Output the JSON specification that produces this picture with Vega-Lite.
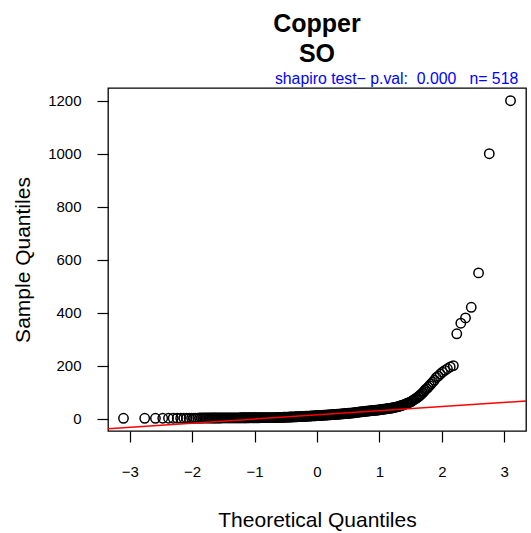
{
  "$schema": "https://vega.github.io/schema/vega-lite/v6.json",
  "width": 418,
  "height": 343,
  "autosize": {"type": "none"},
  "padding": {"left": 108, "top": 88, "right": 5, "bottom": 102},
  "background": "white",
  "title": {
    "text": ["Copper", "SO"],
    "font": "Liberation Sans",
    "fontSize": 25,
    "fontWeight": "bold",
    "color": "black",
    "lineHeight": 30,
    "anchor": "middle",
    "frame": "group",
    "offset": 4
  },
  "config": {
    "font": "Liberation Sans",
    "view": {"stroke": "black", "strokeWidth": 1.3},
    "axis": {
      "grid": false,
      "domain": false,
      "ticks": true,
      "tickColor": "black",
      "tickWidth": 1.2,
      "tickSize": 11,
      "labelColor": "black",
      "labelFontSize": 15,
      "labelFont": "Liberation Sans",
      "labelFlush": false,
      "labelOverlap": false,
      "titleFont": "Liberation Sans",
      "titleFontWeight": "normal",
      "titleColor": "black",
      "titleFontSize": 21
    },
    "axisBottom": {"labelPadding": 34, "labelBaseline": "alphabetic", "titleY": 95.7, "titleBaseline": "alphabetic"},
    "axisLeft": {"labelPadding": 16, "labelAngle": 0, "titleX": -79, "titleBaseline": "alphabetic", "titleAngle": 270},
    "axisTop": {"ticks": false, "labels": false, "domain": false, "titleColor": "#0000FF", "titleFontSize": 15.8, "titleX": 409.7, "titleY": -4.3, "titleAlign": "right", "titleAnchor": "end", "titleBaseline": "alphabetic", "titleAngle": 0}
  },
  "datasets": {
    "qq": [
      {"theoretical": -3.100, "sample": 1.0},
      {"theoretical": -2.760, "sample": 1.0},
      {"theoretical": -2.588, "sample": 1.0},
      {"theoretical": -2.471, "sample": 1.1},
      {"theoretical": -2.379, "sample": 1.2},
      {"theoretical": -2.304, "sample": 1.3},
      {"theoretical": -2.239, "sample": 1.4},
      {"theoretical": -2.184, "sample": 1.5},
      {"theoretical": -2.134, "sample": 1.5},
      {"theoretical": -2.089, "sample": 1.6},
      {"theoretical": -2.048, "sample": 1.6},
      {"theoretical": -2.010, "sample": 1.7},
      {"theoretical": -1.975, "sample": 1.7},
      {"theoretical": -1.942, "sample": 1.8},
      {"theoretical": -1.911, "sample": 1.8},
      {"theoretical": -1.882, "sample": 1.9},
      {"theoretical": -1.855, "sample": 1.9},
      {"theoretical": -1.828, "sample": 2.0},
      {"theoretical": -1.803, "sample": 2.0},
      {"theoretical": -1.779, "sample": 2.0},
      {"theoretical": -1.756, "sample": 2.1},
      {"theoretical": -1.733, "sample": 2.1},
      {"theoretical": -1.712, "sample": 2.1},
      {"theoretical": -1.691, "sample": 2.2},
      {"theoretical": -1.672, "sample": 2.2},
      {"theoretical": -1.653, "sample": 2.2},
      {"theoretical": -1.635, "sample": 2.2},
      {"theoretical": -1.62, "sample": 2.2},
      {"theoretical": -1.60, "sample": 2.2},
      {"theoretical": -1.58, "sample": 2.3},
      {"theoretical": -1.56, "sample": 2.3},
      {"theoretical": -1.54, "sample": 2.3},
      {"theoretical": -1.52, "sample": 2.4},
      {"theoretical": -1.50, "sample": 2.4},
      {"theoretical": -1.48, "sample": 2.4},
      {"theoretical": -1.46, "sample": 2.4},
      {"theoretical": -1.44, "sample": 2.5},
      {"theoretical": -1.42, "sample": 2.5},
      {"theoretical": -1.40, "sample": 2.5},
      {"theoretical": -1.38, "sample": 2.5},
      {"theoretical": -1.36, "sample": 2.6},
      {"theoretical": -1.34, "sample": 2.6},
      {"theoretical": -1.32, "sample": 2.6},
      {"theoretical": -1.30, "sample": 2.6},
      {"theoretical": -1.28, "sample": 2.7},
      {"theoretical": -1.26, "sample": 2.7},
      {"theoretical": -1.24, "sample": 2.7},
      {"theoretical": -1.22, "sample": 2.8},
      {"theoretical": -1.20, "sample": 2.8},
      {"theoretical": -1.18, "sample": 2.8},
      {"theoretical": -1.16, "sample": 2.9},
      {"theoretical": -1.14, "sample": 2.9},
      {"theoretical": -1.12, "sample": 2.9},
      {"theoretical": -1.10, "sample": 3.0},
      {"theoretical": -1.08, "sample": 3.0},
      {"theoretical": -1.06, "sample": 3.0},
      {"theoretical": -1.04, "sample": 3.0},
      {"theoretical": -1.02, "sample": 3.1},
      {"theoretical": -1.00, "sample": 3.1},
      {"theoretical": -0.98, "sample": 3.1},
      {"theoretical": -0.96, "sample": 3.2},
      {"theoretical": -0.94, "sample": 3.2},
      {"theoretical": -0.92, "sample": 3.2},
      {"theoretical": -0.90, "sample": 3.3},
      {"theoretical": -0.88, "sample": 3.3},
      {"theoretical": -0.86, "sample": 3.3},
      {"theoretical": -0.84, "sample": 3.4},
      {"theoretical": -0.82, "sample": 3.4},
      {"theoretical": -0.80, "sample": 3.4},
      {"theoretical": -0.78, "sample": 3.5},
      {"theoretical": -0.76, "sample": 3.5},
      {"theoretical": -0.74, "sample": 3.5},
      {"theoretical": -0.72, "sample": 3.6},
      {"theoretical": -0.70, "sample": 3.6},
      {"theoretical": -0.68, "sample": 3.6},
      {"theoretical": -0.66, "sample": 3.7},
      {"theoretical": -0.64, "sample": 3.9},
      {"theoretical": -0.62, "sample": 4.0},
      {"theoretical": -0.60, "sample": 4.2},
      {"theoretical": -0.58, "sample": 4.4},
      {"theoretical": -0.56, "sample": 4.6},
      {"theoretical": -0.54, "sample": 4.8},
      {"theoretical": -0.52, "sample": 4.9},
      {"theoretical": -0.50, "sample": 5.1},
      {"theoretical": -0.48, "sample": 5.3},
      {"theoretical": -0.46, "sample": 5.5},
      {"theoretical": -0.44, "sample": 5.7},
      {"theoretical": -0.42, "sample": 5.8},
      {"theoretical": -0.40, "sample": 6.0},
      {"theoretical": -0.38, "sample": 6.2},
      {"theoretical": -0.36, "sample": 6.4},
      {"theoretical": -0.34, "sample": 6.6},
      {"theoretical": -0.32, "sample": 6.9},
      {"theoretical": -0.30, "sample": 7.1},
      {"theoretical": -0.28, "sample": 7.3},
      {"theoretical": -0.26, "sample": 7.5},
      {"theoretical": -0.24, "sample": 7.8},
      {"theoretical": -0.22, "sample": 8.0},
      {"theoretical": -0.20, "sample": 8.2},
      {"theoretical": -0.18, "sample": 8.5},
      {"theoretical": -0.16, "sample": 8.8},
      {"theoretical": -0.14, "sample": 9.1},
      {"theoretical": -0.12, "sample": 9.3},
      {"theoretical": -0.10, "sample": 9.6},
      {"theoretical": -0.08, "sample": 9.9},
      {"theoretical": -0.06, "sample": 10.2},
      {"theoretical": -0.04, "sample": 10.4},
      {"theoretical": -0.02, "sample": 10.7},
      {"theoretical": 0.00, "sample": 11.0},
      {"theoretical": 0.02, "sample": 11.3},
      {"theoretical": 0.04, "sample": 11.6},
      {"theoretical": 0.06, "sample": 11.9},
      {"theoretical": 0.08, "sample": 12.2},
      {"theoretical": 0.10, "sample": 12.5},
      {"theoretical": 0.12, "sample": 12.8},
      {"theoretical": 0.14, "sample": 13.1},
      {"theoretical": 0.16, "sample": 13.4},
      {"theoretical": 0.18, "sample": 13.7},
      {"theoretical": 0.20, "sample": 14.0},
      {"theoretical": 0.22, "sample": 14.4},
      {"theoretical": 0.24, "sample": 14.7},
      {"theoretical": 0.26, "sample": 15.1},
      {"theoretical": 0.28, "sample": 15.4},
      {"theoretical": 0.30, "sample": 15.8},
      {"theoretical": 0.32, "sample": 16.1},
      {"theoretical": 0.34, "sample": 16.5},
      {"theoretical": 0.36, "sample": 16.8},
      {"theoretical": 0.38, "sample": 17.2},
      {"theoretical": 0.40, "sample": 17.5},
      {"theoretical": 0.42, "sample": 18.0},
      {"theoretical": 0.44, "sample": 18.4},
      {"theoretical": 0.46, "sample": 18.9},
      {"theoretical": 0.48, "sample": 19.3},
      {"theoretical": 0.50, "sample": 19.8},
      {"theoretical": 0.52, "sample": 20.2},
      {"theoretical": 0.54, "sample": 20.7},
      {"theoretical": 0.56, "sample": 21.1},
      {"theoretical": 0.58, "sample": 21.6},
      {"theoretical": 0.60, "sample": 22.0},
      {"theoretical": 0.62, "sample": 22.7},
      {"theoretical": 0.64, "sample": 23.4},
      {"theoretical": 0.66, "sample": 24.1},
      {"theoretical": 0.68, "sample": 24.7},
      {"theoretical": 0.70, "sample": 25.2},
      {"theoretical": 0.72, "sample": 25.8},
      {"theoretical": 0.74, "sample": 26.3},
      {"theoretical": 0.76, "sample": 26.9},
      {"theoretical": 0.78, "sample": 27.4},
      {"theoretical": 0.80, "sample": 28.0},
      {"theoretical": 0.82, "sample": 28.5},
      {"theoretical": 0.84, "sample": 29.0},
      {"theoretical": 0.86, "sample": 29.5},
      {"theoretical": 0.88, "sample": 30.0},
      {"theoretical": 0.90, "sample": 30.5},
      {"theoretical": 0.92, "sample": 31.0},
      {"theoretical": 0.94, "sample": 31.5},
      {"theoretical": 0.96, "sample": 32.0},
      {"theoretical": 0.98, "sample": 32.5},
      {"theoretical": 1.00, "sample": 33.0},
      {"theoretical": 1.02, "sample": 33.7},
      {"theoretical": 1.04, "sample": 34.4},
      {"theoretical": 1.06, "sample": 35.1},
      {"theoretical": 1.08, "sample": 35.8},
      {"theoretical": 1.10, "sample": 36.5},
      {"theoretical": 1.12, "sample": 37.2},
      {"theoretical": 1.14, "sample": 37.9},
      {"theoretical": 1.16, "sample": 38.6},
      {"theoretical": 1.18, "sample": 39.3},
      {"theoretical": 1.20, "sample": 40.0},
      {"theoretical": 1.22, "sample": 41.0},
      {"theoretical": 1.24, "sample": 42.0},
      {"theoretical": 1.26, "sample": 43.0},
      {"theoretical": 1.28, "sample": 44.0},
      {"theoretical": 1.30, "sample": 45.0},
      {"theoretical": 1.32, "sample": 46.6},
      {"theoretical": 1.34, "sample": 48.2},
      {"theoretical": 1.36, "sample": 49.8},
      {"theoretical": 1.38, "sample": 51.4},
      {"theoretical": 1.40, "sample": 53.0},
      {"theoretical": 1.42, "sample": 55.0},
      {"theoretical": 1.44, "sample": 57.0},
      {"theoretical": 1.46, "sample": 59.0},
      {"theoretical": 1.48, "sample": 61.0},
      {"theoretical": 1.50, "sample": 63.0},
      {"theoretical": 1.52, "sample": 66.0},
      {"theoretical": 1.54, "sample": 69.0},
      {"theoretical": 1.56, "sample": 72.0},
      {"theoretical": 1.58, "sample": 75.0},
      {"theoretical": 1.60, "sample": 78.0},
      {"theoretical": 1.62, "sample": 82.0},
      {"theoretical": 1.635, "sample": 85},
      {"theoretical": 1.653, "sample": 88},
      {"theoretical": 1.672, "sample": 92},
      {"theoretical": 1.691, "sample": 97},
      {"theoretical": 1.712, "sample": 102},
      {"theoretical": 1.733, "sample": 108},
      {"theoretical": 1.756, "sample": 113},
      {"theoretical": 1.779, "sample": 118},
      {"theoretical": 1.803, "sample": 124},
      {"theoretical": 1.828, "sample": 131},
      {"theoretical": 1.855, "sample": 138},
      {"theoretical": 1.882, "sample": 145},
      {"theoretical": 1.911, "sample": 155},
      {"theoretical": 1.942, "sample": 160},
      {"theoretical": 1.975, "sample": 168},
      {"theoretical": 2.010, "sample": 175},
      {"theoretical": 2.048, "sample": 182},
      {"theoretical": 2.089, "sample": 188},
      {"theoretical": 2.134, "sample": 195},
      {"theoretical": 2.184, "sample": 200},
      {"theoretical": 2.239, "sample": 320},
      {"theoretical": 2.304, "sample": 360},
      {"theoretical": 2.379, "sample": 380},
      {"theoretical": 2.471, "sample": 420},
      {"theoretical": 2.588, "sample": 550},
      {"theoretical": 2.760, "sample": 1000},
      {"theoretical": 3.100, "sample": 1200}
    ],
    "ref": [
      {"theoretical": -3.6, "sample": -42.2},
      {"theoretical": 3.6, "sample": 70.2}
    ]
  },
  "layer": [
    {
      "data": {"name": "qq"},
      "mark": {"type": "point", "shape": "circle", "filled": false, "size": 88, "stroke": "black", "strokeWidth": 1.5, "opacity": 1},
      "encoding": {
        "x": {"field": "theoretical", "type": "quantitative", "scale": {"domain": [-3.348, 3.348], "nice": false, "zero": false},
              "axis": {"orient": "bottom", "title": "Theoretical Quantiles", "values": [-3, -2, -1, 0, 1, 2, 3]}},
        "y": {"field": "sample", "type": "quantitative", "scale": {"domain": [-47, 1248], "nice": false, "zero": false},
              "axis": {"title": "Sample Quantiles", "format": "d", "values": [0, 200, 400, 600, 800, 1000, 1200]}}
      }
    },
    {
      "data": {"name": "ref"},
      "mark": {"type": "line", "color": "#FF0000", "strokeWidth": 1.5, "clip": true},
      "encoding": {
        "x": {"field": "theoretical", "type": "quantitative", "scale": {"domain": [-3.348, 3.348], "nice": false, "zero": false},
              "axis": {"orient": "top", "title": "shapiro test\u2212 p.val:\u00a0 0.000\u00a0\u00a0 n= 518"}},
        "y": {"field": "sample", "type": "quantitative", "scale": {"domain": [-47, 1248], "nice": false, "zero": false},
              "axis": {"title": "Sample Quantiles", "format": "d", "values": [0, 200, 400, 600, 800, 1000, 1200]}}
      }
    }
  ],
  "resolve": {"axis": {"x": "independent"}}
}
